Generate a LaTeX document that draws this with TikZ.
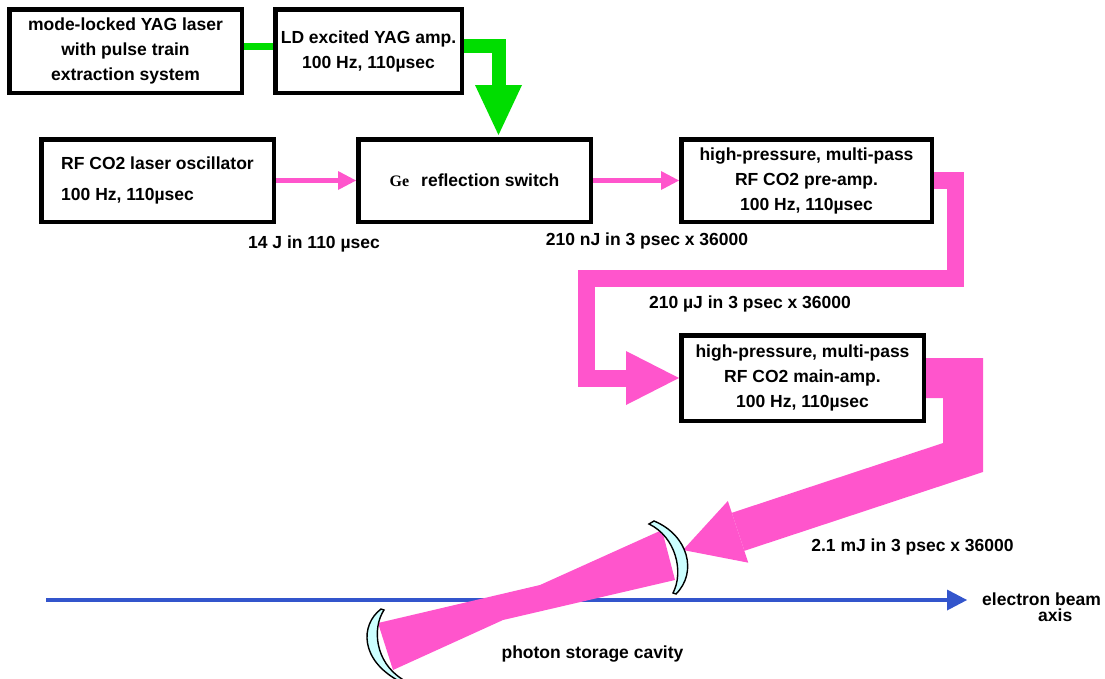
\documentclass[tikz,border=0pt]{standalone}
\usepackage{fontspec}
\setmainfont{Liberation Sans}
\newfontfamily\gefont{Liberation Serif}
\usetikzlibrary{arrows.meta,calc}
\definecolor{beampink}{RGB}{255,85,204}
\definecolor{yaggreen}{RGB}{0,221,0}
\definecolor{axisblue}{RGB}{51,85,204}
\definecolor{mirrorcyan}{RGB}{204,255,255}
\tikzset{
	every node/.style={font=\fontsize{17.5pt}{25pt}\selectfont\bfseries},
	box/.style={draw, fill=white, line width=4.5pt, inner sep=0pt, align=center},
	lbl/.style={anchor=base, inner sep=0pt},
	yagline/.style={yaggreen, line width=7pt},
	yagbeam/.style={yaggreen, line width=14pt, shorten >=2pt, -{Triangle[width=47pt,length=50pt,line width=0pt]}},
	thinbeam/.style={beampink, line width=5pt, -{Triangle[width=19pt,length=18pt,line width=0pt]}},
	midbeam/.style={beampink, line width=17pt, -{Triangle[width=54pt,length=53pt,line width=0pt]}},
	bigbeam/.style={beampink, line width=40pt, -{Triangle[width=65pt,length=58pt,line width=0pt]}},
	mirror/.style={fill=mirrorcyan, draw=black, line width=1.4pt}
}

\begin{document}
\begin{tikzpicture}[x=1pt, y=-1pt, line join=miter]
		%%%%% START %%%%%
		\useasboundingbox (0,0) rectangle (1105,678);
		
		% boxes
		\node[box, minimum width=232.5, minimum height=83.5] (yag) at (125.5,51) {mode-locked YAG laser\\with pulse train\\extraction system};
		\node[box, minimum width=186.5, minimum height=83.5] (ldamp) at (368.5,51) {LD excited YAG amp.\\100 Hz, 110µsec};
		\node[box, minimum width=232.5, minimum height=82.5, align=left] (osc) at (157.5,180.5) {RF CO2 laser oscillator\\[6pt]100 Hz, 110µsec};
		\node[box, minimum width=232.5, minimum height=82.5] (ge) at (474.5,180.5) {{\gefont\fontsize{16pt}{25pt}\selectfont Ge}\hspace{12pt}reflection switch};
		\node[box, minimum width=250.5, minimum height=82.5] (preamp) at (806.5,180.5) {high-pressure, multi-pass\\RF CO2 pre-amp.\\100 Hz, 110µsec};
		\node[box, minimum width=242.5, minimum height=85.5] (mainamp) at (802.5,378) {high-pressure, multi-pass\\RF CO2 main-amp.\\100 Hz, 110µsec};
		
		% YAG branch
		\draw[yagline] ([yshift=4.5pt]yag.east) -- ([yshift=4.5pt]ldamp.west);
		\draw[yagbeam] ([yshift=5pt]ldamp.east) -| ([xshift=24pt]ge.north);
		
		% CO2 chain
		\draw[thinbeam] (osc) -- (ge);
		\draw[thinbeam] (ge) -- (preamp);
		\draw[midbeam] (preamp.east) -- ++(21.5,0) |- (586,278.5) |- (mainamp.west);
		
		% cavity
		\coordinate (inj) at (683,550);
		\coordinate (axstart) at (46,600);
		\coordinate (axend) at (967,600);
		\draw[axisblue, line width=4pt, -{Triangle[width=21pt,length=20pt,line width=0pt]}] (axstart) -- (axend);
		\fill[beampink] (378,623) -- (540,585) -- (662,530) -- (675,580) -- (503,620) -- (393,670) -- cycle;
		\draw[bigbeam] (mainamp.east) -- ++(37,0) -- ++(0,79.5) -- (inj);
		\draw[mirror] (654,521) .. controls (688,535) and (698,572) .. (676,594) -- (673,593) .. controls (684,572) and (676,537) .. (649,524) -- cycle;
		\draw[mirror] (381,609) .. controls (360,625) and (360,660) .. (399,681) -- (402,679) .. controls (375,662) and (372,628) .. (384,610) -- cycle;
		
		% labels
		\node[lbl] (e14) at (314,248) {14 J in 110 µsec};
		\node[lbl] (e210n) at (647,245) {210 nJ in 3 psec x 36000};
		\node[lbl] (e210u) at (750,308) {210 µJ in 3 psec x 36000};
		\node[lbl] (e21m) at (912.5,551) {2.1 mJ in 3 psec x 36000};
		\node[lbl] (cavity) at (592.5,658) {photon storage cavity};
		\node[lbl, anchor=base west] (beamlbl) at (982,605) {electron beam};
		\node[lbl, anchor=base west] (axislbl) at (1038,621) {axis};
		%%%%% END %%%%%
\end{tikzpicture}
\end{document}
